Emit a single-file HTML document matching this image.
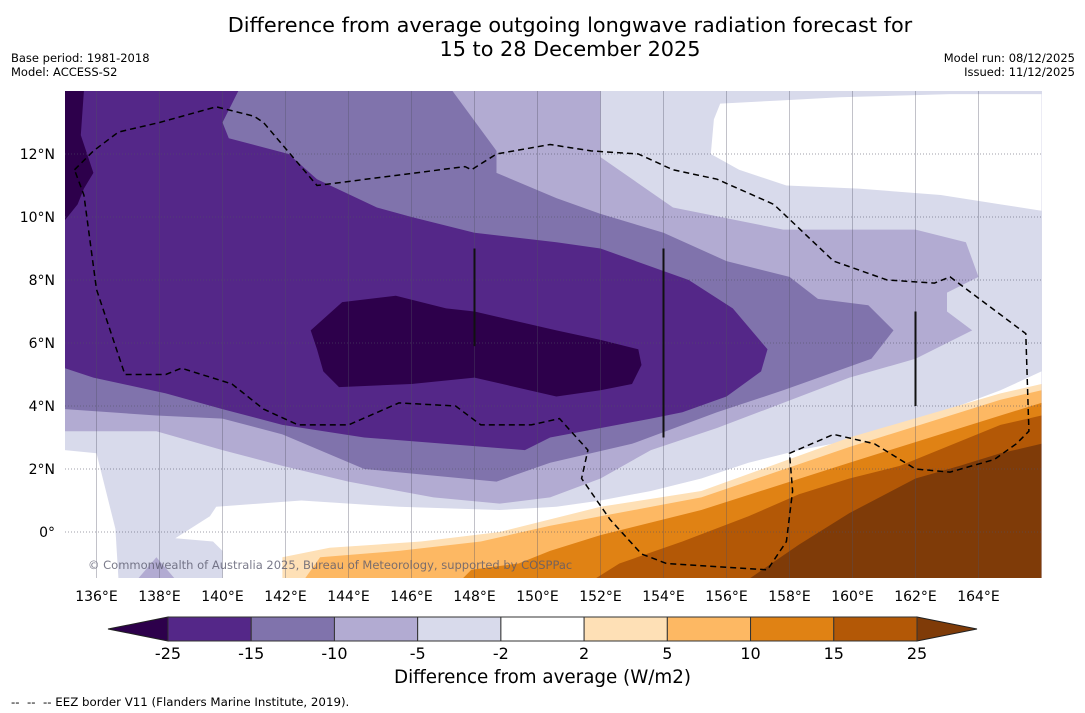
<!DOCTYPE html>
<html><head><meta charset="utf-8"><style>
html,body{margin:0;padding:0;background:#fff;}
body{width:1085px;height:713px;position:relative;overflow:hidden;font-family:"DejaVu Sans","Liberation Sans",sans-serif;}
.t{position:absolute;white-space:nowrap;color:#000;}
</style></head><body>
<div class="t" style="left:0;width:1140px;top:13px;text-align:center;font-size:20.8px;line-height:24px;">Difference from average outgoing longwave radiation forecast for<br>15 to 28 December 2025</div>
<div class="t" style="left:11px;top:51px;font-size:11.5px;line-height:14px;">Base period: 1981-2018<br>Model: ACCESS-S2</div>
<div class="t" style="right:10px;top:51px;font-size:11.5px;line-height:14px;text-align:right;">Model run: 08/12/2025<br>Issued: 11/12/2025</div>
<svg id="map" width="1085" height="713" style="position:absolute;left:0;top:0;">
<defs><clipPath id="clip"><rect x="65" y="91" width="977" height="487"/></clipPath></defs>
<g id="fills" clip-path="url(#clip)"></g>
<g id="grid" clip-path="url(#clip)"></g>
<g id="over" clip-path="url(#clip)"></g>
<g id="axes"></g>
<g id="cbar"></g>
</svg>
<div class="t" style="left:88px;top:558px;font-size:11.5px;color:rgba(90,90,110,0.8);">© Commonwealth of Australia 2025, Bureau of Meteorology, supported by COSPPac</div>
<div class="t" style="left:0;width:1085px;top:667px;text-align:center;font-size:18.3px;">Difference from average (W/m2)</div>
<div class="t" style="left:11px;top:695px;font-size:11.8px;">--&nbsp;&nbsp;--&nbsp;&nbsp;-- EEZ border V11 (Flanders Marine Institute, 2019).</div>
<script>
const lonTicks=[136,138,140,142,144,146,148,150,152,154,156,158,160,162,164];
const latTicks=[0,2,4,6,8,10,12];
const levelLabels=["-25","-15","-10","-5","-2","2","5","10","15","25"];
const levelColors=["#542788","#8073ac","#b2abd2","#d8daeb","#ffffff","#fee0b6","#fdb863","#e08214","#b35806"];
const lowColor="#2d004b", highColor="#7f3b08";
const bgColor="#d8daeb";
const whiteTop=[[155.6,13.1],[155.8,13.6],[157.7,13.7],[159.6,13.8],[163.1,13.9],[166,13.9],[166,10.2],[164.7,10.4],[162.8,10.7],[160.2,10.9],[157.9,11.0],[156.4,11.5],[155.5,12.0]];
const whiteLeft=[[135,2.6],[136,2.5],[136.6,0.1],[136.7,-1.5],[135,-1.5]];
const whiteBand=[[140,-1.5],[140,-0.6],[139.7,-0.3],[138.5,-0.2],[139.6,0.5],[139.8,0.8],[142.5,1.0],[145.6,0.8],[148.8,0.7],[150.6,0.8],[152,1.0],[153.6,1.3],[155.2,1.7],[156.7,2.2],[158.3,2.6],[159.9,2.9],[161.5,3.4],[163.1,3.9],[164.7,4.5],[166,5.1],[166,-1.5]];
const diamond=[[137.3,-1.5],[137.9,-0.8],[138.5,-1.5]];
const lightOrange=[[141.9,-1.5],[141.9,-0.8],[143.4,-0.5],[146.3,-0.3],[148.8,0.0],[150.4,0.4],[152,0.8],[155.2,1.3],[159.9,3.0],[164.7,4.4],[166,4.7],[166,-1.5]];
const orange=[[142.6,-1.5],[143.1,-0.8],[145.6,-0.6],[148.2,-0.3],[150.4,0.2],[152,0.5],[155.2,1.1],[159.9,2.7],[164.7,4.2],[166,4.5],[166,-1.5]];
const darkOrange=[[147.6,-1.5],[147.9,-1.2],[149.4,-1.0],[150.4,-0.6],[152,-0.1],[155.2,0.7],[159.9,2.2],[164.7,3.7],[166,4.1],[166,-1.5]];
const brown=[[151.8,-1.5],[152.6,-1.0],[154.6,-0.3],[156.7,0.5],[158.3,1.2],[159.9,1.7],[161.5,2.1],[164.7,3.4],[166,3.7],[166,-1.5]];
const darkBrown=[[156.7,-1.5],[158.3,-0.4],[159.9,0.6],[162,1.7],[163.4,2.1],[164.7,2.5],[166,2.8],[166,-1.5]];
const minus10=[[147.3,14],[152,14],[152,11.9],[154.3,10.3],[157.8,9.6],[162,9.6],[163.6,9.2],[164,8.1],[163,7.6],[163,7.0],[163.8,6.4],[162,5.5],[159.9,4.9],[157.8,4.1],[155.7,3.3],[153.6,2.6],[152,1.7],[150.4,1.1],[148.8,0.9],[146.7,1.1],[145.6,1.3],[144,1.6],[141.9,2.1],[140,2.6],[137.9,3.2],[135,3.2],[135,14]];
const minus15=[[140.5,14],[147.3,14],[148.7,12.1],[148.7,11.4],[150.6,10.6],[152,10.1],[154,9.5],[156,8.6],[158,8.1],[158.9,7.4],[160.5,7.2],[161.3,6.4],[160.6,5.5],[157.8,4.5],[155.7,3.8],[153,2.8],[150.4,2.2],[148.7,1.6],[144.5,2.0],[141.9,3.1],[140,3.6],[137.9,3.7],[135,3.9],[135,14]];
const minus25=[[135,14],[140.5,14],[140,13.0],[140.2,12.5],[142.1,12.0],[143,11.2],[144.9,10.3],[146,10.0],[148,9.5],[150.6,9.2],[152,9.0],[154.8,8.0],[156.2,7.1],[157.3,5.8],[157.1,5.1],[156,4.3],[154.6,3.8],[153.6,3.6],[150.4,3.0],[149.6,2.6],[144.5,3.0],[141.9,3.4],[140,3.9],[138.2,4.4],[135.9,4.9],[135,5.2]];
const coreBlob=[[142.8,6.4],[143.8,7.3],[145.5,7.5],[147.1,7.1],[148,7.0],[150.6,6.4],[152,6.1],[153.2,5.8],[153.3,5.3],[153,4.7],[152,4.5],[150.6,4.3],[148,4.9],[146,4.7],[143.7,4.6],[143.2,5.1],[143,5.8]];
const coreLeft=[[135,14],[135.6,14],[135.5,12.6],[135.9,11.4],[135.6,10.9],[135.4,10.4],[135,9.9]];
const eezLoop=[[135.3,11.5],[135.9,12.1],[136.7,12.7],[138,13.0],[139.8,13.5],[141,13.2],[141.3,13.0],[143,11.0],[147.7,11.6],[147.9,11.5],[148.7,12.0],[150.4,12.3],[151.7,12.1],[153.2,12.0],[154.3,11.5],[155.7,11.2],[157.5,10.4],[159.4,8.6],[161.1,8.0],[162.6,7.9],[163.1,8.1],[165.5,6.3],[165.6,3.2],[165.2,2.8],[164.5,2.3],[163.1,1.9],[162,2.0],[160.7,2.8],[159.4,3.1],[158,2.5],[158.1,1.3],[157.9,-0.3],[157.3,-1.2],[154.1,-1.0],[153.3,-0.7],[152.3,0.4],[151.4,1.7],[151.6,2.6],[150.7,3.6],[149.8,3.4],[148.2,3.4],[147.4,4.0],[145.6,4.1],[144,3.4],[142.4,3.4],[141.3,3.9],[140.3,4.7],[138.7,5.2],[138.2,5.0],[136.9,5.0],[136,7.7],[135.6,10.7]];
const vLines=[[148,9.0,5.9],[154,9.0,3.0],[162,7.0,4.0]];

const NS='http://www.w3.org/2000/svg';
const lon0=135,lat0=14,ppd=31.5,X0=65,Y0=91;
function xs(lon){return X0+(lon-lon0)*ppd;}
function ys(lat){return Y0+(lat0-lat)*ppd;}
function mk(tag,attrs,parent){const e=document.createElementNS(NS,tag);for(const k in attrs)e.setAttribute(k,attrs[k]);parent.appendChild(e);return e;}
const fills=document.getElementById('fills');
function poly(pts,color,name){
  const e=mk('polygon',{points:pts.map(p=>xs(p[0]).toFixed(1)+','+ys(p[1]).toFixed(1)).join(' '),fill:color},fills);
  
  
}
const bg=mk('rect',{x:65,y:91,width:977,height:487,fill:bgColor},fills);


poly(whiteTop,levelColors[4],'neutral-region-north');
poly(whiteLeft,levelColors[4],'neutral-region-west');
poly(whiteBand,levelColors[4],'neutral-band-equator');
poly(diamond,levelColors[2],'minus10-patch');
poly(lightOrange,levelColors[5],'plus2-region');
poly(orange,levelColors[6],'plus5-region');
poly(darkOrange,levelColors[7],'plus10-region');
poly(brown,levelColors[8],'plus15-region');
poly(darkBrown,highColor,'plus25-region');
poly(minus10,levelColors[2],'minus5-region');
poly(minus15,levelColors[1],'minus10-region');
poly(minus25,levelColors[0],'minus15-region');
poly(coreBlob,lowColor,'minus25-core');
poly(coreLeft,lowColor,'minus25-west');

const grid=document.getElementById('grid');
lonTicks.forEach(l=>{const e=mk('line',{x1:xs(l),x2:xs(l),y1:91,y2:578,stroke:'rgba(80,80,100,0.35)','stroke-width':1},grid);

});
latTicks.forEach(l=>{const e=mk('line',{x1:65,x2:1042,y1:ys(l),y2:ys(l),stroke:'rgba(80,80,100,0.55)','stroke-width':1,'stroke-dasharray':'1,2'},grid);

});

const over=document.getElementById('over');
const eez=mk('polygon',{points:eezLoop.map(p=>xs(p[0]).toFixed(1)+','+ys(p[1]).toFixed(1)).join(' '),fill:'none',stroke:'#000','stroke-width':1.5,'stroke-dasharray':'6,4'},over);


vLines.forEach(v=>{const e=mk('line',{x1:xs(v[0]),x2:xs(v[0]),y1:ys(v[1]),y2:ys(v[2]),stroke:'#111','stroke-width':2},over);

});

const axes=document.getElementById('axes');
lonTicks.forEach(l=>{const e=mk('text',{x:xs(l),y:601,'text-anchor':'middle','font-size':14,'font-family':'DejaVu Sans, Liberation Sans, sans-serif'},axes);e.textContent=l+'°E';

});
latTicks.forEach(l=>{const e=mk('text',{x:55,y:ys(l)+5,'text-anchor':'end','font-size':14,'font-family':'DejaVu Sans, Liberation Sans, sans-serif'},axes);e.textContent=l===0?'0°':l+'°N';

});

const cb=document.getElementById('cbar');
const cbX0=168,cbX1=917,cbY=617,cbH=24,triW=60;
const bw=(cbX1-cbX0)/levelColors.length;
const lt=mk('polygon',{points:`${cbX0},${cbY} ${cbX0},${cbY+cbH} ${cbX0-triW},${cbY+cbH/2}`,fill:lowColor,stroke:'#222','stroke-width':1},cb);


const rt=mk('polygon',{points:`${cbX1},${cbY} ${cbX1},${cbY+cbH} ${cbX1+triW},${cbY+cbH/2}`,fill:highColor,stroke:'#222','stroke-width':1},cb);


levelColors.forEach((c,i)=>{const e=mk('rect',{x:cbX0+i*bw,y:cbY,width:bw,height:cbH,fill:c,stroke:'#333','stroke-width':1},cb);

});
levelLabels.forEach((t,i)=>{const e=mk('text',{x:cbX0+i*bw,y:cbY+cbH+18,'text-anchor':'middle','font-size':16,'font-family':'DejaVu Sans, Liberation Sans, sans-serif'},cb);e.textContent=t;

});
</script>
</body></html>
